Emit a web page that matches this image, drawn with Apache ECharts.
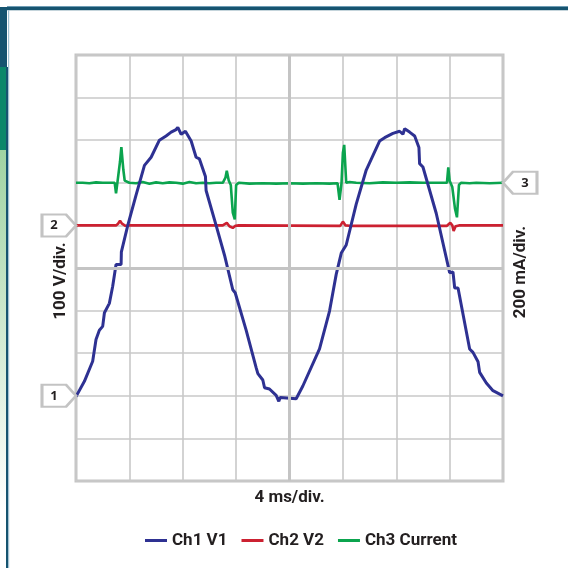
<!DOCTYPE html>
<html>
<head>
<meta charset="utf-8">
<script src="https://cdn.jsdelivr.net/npm/echarts@6/dist/echarts.min.js"></script>
<style>
html,body{margin:0;padding:0;background:#fff;}
#chart{width:568px;height:568px;}
</style>
</head>
<body>
<div id="chart"></div>
<script>
// ---- Data (time in ms, amplitude in screen divisions) ----
const seriesNames = ['Ch1 V1', 'Ch2 V2', 'Ch3 Current'];

const ch1Time = [0, 0.63, 1.25, 1.5, 1.75, 2.0, 2.13, 2.5, 2.75, 3.0, 3.38, 3.4, 3.88, 4.5, 5.13, 5.63, 6.25, 6.75, 7.13, 7.5, 7.63, 7.88, 8.2, 8.63, 9.0, 9.25, 9.7, 9.75, 9.88, 10.5, 11.13, 11.75, 11.93, 12.75, 13.5, 13.63, 14.0, 14.13, 14.5, 15.0, 15.2, 15.3, 16.5, 17.0, 18.25, 19.0, 19.5, 19.88, 20.25, 21.0, 21.75, 22.75, 23.13, 23.75, 24.25, 24.5, 24.63, 25.0, 25.38, 25.7, 25.75, 26.0, 27.0, 28.0, 28.25, 28.38, 28.63, 29.5, 29.75, 30.13, 30.25, 30.75, 31.25, 32.0];
const ch1Value = [1.98, 2.34, 2.81, 3.32, 3.54, 3.63, 3.95, 4.17, 4.57, 5.08, 5.08, 5.38, 6.0, 6.71, 7.41, 7.6, 8.0, 8.1, 8.19, 8.25, 8.3, 8.14, 8.21, 7.98, 7.6, 7.56, 7.15, 6.82, 6.82, 6.0, 5.3, 4.49, 4.42, 3.54, 2.66, 2.52, 2.37, 2.19, 2.16, 2.01, 1.87, 1.96, 1.93, 2.23, 3.1, 3.99, 4.85, 5.35, 5.54, 6.5, 7.3, 7.98, 8.06, 8.16, 8.21, 8.14, 8.27, 8.19, 8.1, 7.83, 7.45, 7.37, 6.28, 4.89, 4.91, 4.53, 4.53, 3.1, 3.02, 2.8, 2.55, 2.3, 2.12, 2.0];

const ch2Time = [0, 3.0, 3.15, 3.3, 3.45, 3.55, 3.7, 4.0, 11.0, 11.3, 11.5, 11.75, 11.95, 12.2, 19.8, 20.0, 20.2, 20.5, 27.8, 28.05, 28.2, 28.3, 28.45, 28.7, 32.0];
const ch2Value = [6.0, 6.0, 6.04, 6.11, 6.04, 6.02, 5.99, 6.0, 6.0, 6.06, 5.98, 5.94, 5.99, 6.0, 5.99, 6.09, 6.0, 5.99, 5.99, 6.06, 6.0, 5.87, 5.98, 6.0, 6.0];

const ch3Time = [0, 0.5, 1.0, 1.5, 2.0, 2.5, 2.9, 3.0, 3.1, 3.3, 3.4, 3.55, 3.65, 4.0, 4.5, 5.0, 5.5, 6.0, 6.5, 7.0, 7.5, 8.0, 8.5, 9.0, 9.5, 10.0, 10.5, 11.0, 11.2, 11.3, 11.45, 11.6, 11.75, 11.9, 12.0, 12.2, 13.0, 14.0, 15.0, 16.0, 17.0, 18.0, 19.0, 19.6, 19.75, 19.9, 20.0, 20.1, 20.25, 20.5, 21.0, 22.0, 23.0, 24.0, 25.0, 26.0, 27.0, 27.8, 27.9, 28.0, 28.2, 28.4, 28.55, 28.7, 28.85, 29.5, 30.0, 31.0, 32.0];
const ch3Value = [7.0, 7.0, 6.99, 7.01, 7.0, 7.0, 7.0, 6.75, 7.0, 7.5, 7.84, 7.3, 7.05, 7.0, 6.99, 7.02, 6.98, 7.01, 6.99, 7.01, 7.0, 6.98, 7.02, 6.99, 7.0, 6.99, 7.0, 7.0, 7.12, 7.28, 7.05, 6.95, 6.3, 6.14, 6.95, 7.0, 6.98, 6.99, 6.98, 6.99, 6.98, 6.99, 6.98, 6.99, 6.6, 7.0, 7.7, 7.89, 7.0, 7.02, 7.0, 6.99, 7.01, 7.0, 7.01, 7.0, 7.0, 7.0, 7.36, 7.05, 6.9, 6.4, 6.19, 6.95, 7.0, 6.99, 7.0, 6.99, 7.0];

// channel reference levels (divisions) and labels
const channelLevel = [2, 6, 7];
const channelTag = ['1', '2', '3'];

// axis extents
const timeDivs = 8, msPerDiv = 4;
const vertDivs = 10;
const xAxisName = '4 ms/div.';
const yLeftName = '100 V/div.';
const yRightName = '200 mA/div.';

const colors = ['#2e3192', '#cc2131', '#0ba44e'];
const gridColor = '#c8c8c8';
const textFont = 'Roboto, "Liberation Sans Narrow", sans-serif';
const nameStyle = { color: '#231f20', fontSize: 17, fontWeight: 'bold', fontFamily: textFont };

function zip(t, v) { return t.map((x, i) => [x, v[i]]); }

const leftTag = 'path://M0,0L24,0L34,11L24,22L0,22Z';
const rightTag = 'path://M10,0L34,0L34,22L10,22L0,11Z';

function tagPoint(idx, onRight) {
  return {
    symbol: onRight ? rightTag : leftTag,
    symbolSize: [34, 22],
    symbolOffset: [onRight ? 17 : -17, 0],
    itemStyle: { color: '#ffffff', borderColor: '#c3c3c3', borderWidth: 2.5 },
    label: {
      show: true, position: 'inside', offset: [onRight ? 5 : -5, 0],
      formatter: channelTag[idx], color: '#231f20', fontSize: 13, fontWeight: 'bold',
      fontFamily: '"Open Sans", sans-serif'
    },
    data: [{ coord: [onRight ? timeDivs * msPerDiv : 0, channelLevel[idx]] }],
    silent: true, animation: false
  };
}

const chart = echarts.init(document.getElementById('chart'), null, { renderer: 'canvas' });

const axisCommon = {
  axisLine: { show: false }, axisTick: { show: false }, axisLabel: { show: false },
  splitLine: { show: true, lineStyle: { color: gridColor, width: 1.6 } }
};

chart.setOption({
  animation: false,
  backgroundColor: '#ffffff',
  color: colors,
  graphic: [
    { type: 'rect', shape: { x: 7, y: 6, width: 561, height: 1.2 }, style: { fill: '#6f9db5' }, silent: true },
    { type: 'rect', shape: { x: 7, y: 7, width: 561, height: 3.3 }, style: { fill: '#165470' }, silent: true },
    { type: 'rect', shape: { x: 0, y: 7, width: 7, height: 60 }, style: { fill: '#165470' }, silent: true },
    { type: 'rect', shape: { x: 0, y: 67, width: 6, height: 83 }, style: { fill: '#0a876a' }, silent: true },
    { type: 'rect', shape: { x: 0, y: 150, width: 6, height: 360 }, style: {
        fill: new echarts.graphic.LinearGradient(0, 0, 0, 1, [
          { offset: 0, color: '#9fd3a2' }, { offset: 1, color: '#ffffff' }]) }, silent: true },
    { type: 'rect', shape: { x: 6, y: 67, width: 2, height: 501 }, style: { fill: '#165470' }, silent: true },
    { type: 'rect', shape: { x: 8, y: 10, width: 1.2, height: 558 }, style: { fill: '#a3c3d3' }, silent: true }
  ],
  grid: {
    left: 76, top: 55, right: 65, bottom: 87,
    show: true, borderColor: '#c4c4c4', borderWidth: 3, backgroundColor: 'transparent'
  },
  legend: {
    data: seriesNames,
    left: 140, top: 527,
    icon: 'rect', itemWidth: 22, itemHeight: 3, itemGap: 14,
    textStyle: nameStyle
  },
  xAxis: Object.assign({
    type: 'value', min: 0, max: timeDivs * msPerDiv, interval: msPerDiv,
    name: xAxisName, nameLocation: 'middle', nameGap: 8,
    nameTextStyle: nameStyle
  }, axisCommon),
  yAxis: [
    Object.assign({
      type: 'value', min: 0, max: vertDivs, interval: 1,
      name: yLeftName, nameLocation: 'middle', nameGap: 7, nameRotate: 90,
      nameTextStyle: Object.assign({ padding: [0, 26, 0, 0] }, nameStyle)
    }, axisCommon),
    {
      type: 'value', min: 0, max: vertDivs, interval: 1, position: 'right',
      name: yRightName, nameLocation: 'middle', nameGap: 9, nameRotate: 90,
      nameTextStyle: Object.assign({ padding: [0, 8, 0, 0] }, nameStyle),
      axisLine: { show: false }, axisTick: { show: false }, axisLabel: { show: false },
      splitLine: { show: false }
    }
  ],
  series: [
    {
      name: '__center', type: 'line', data: [], z: 1, silent: true,
      markLine: {
        silent: true, symbol: 'none', animation: false,
        label: { show: false },
        lineStyle: { color: '#c4c4c4', width: 3, type: 'solid' },
        data: [{ xAxis: timeDivs * msPerDiv / 2 }, { yAxis: vertDivs / 2 }]
      }
    },
    {
      name: seriesNames[1], type: 'line', data: zip(ch2Time, ch2Value), z: 3,
      showSymbol: false, symbol: 'none', clip: false,
      lineStyle: { color: colors[1], width: 2.6 },
      markPoint: tagPoint(1, false)
    },
    {
      name: seriesNames[2], type: 'line', data: zip(ch3Time, ch3Value), z: 3,
      showSymbol: false, symbol: 'none', clip: false,
      lineStyle: { color: colors[2], width: 2.6 },
      markPoint: tagPoint(2, true)
    },
    {
      name: seriesNames[0], type: 'line', data: zip(ch1Time, ch1Value), z: 4,
      showSymbol: false, symbol: 'none', clip: false,
      lineStyle: { color: colors[0], width: 3 },
      markPoint: tagPoint(0, false)
    }
  ]
});
</script>
</body>
</html>
